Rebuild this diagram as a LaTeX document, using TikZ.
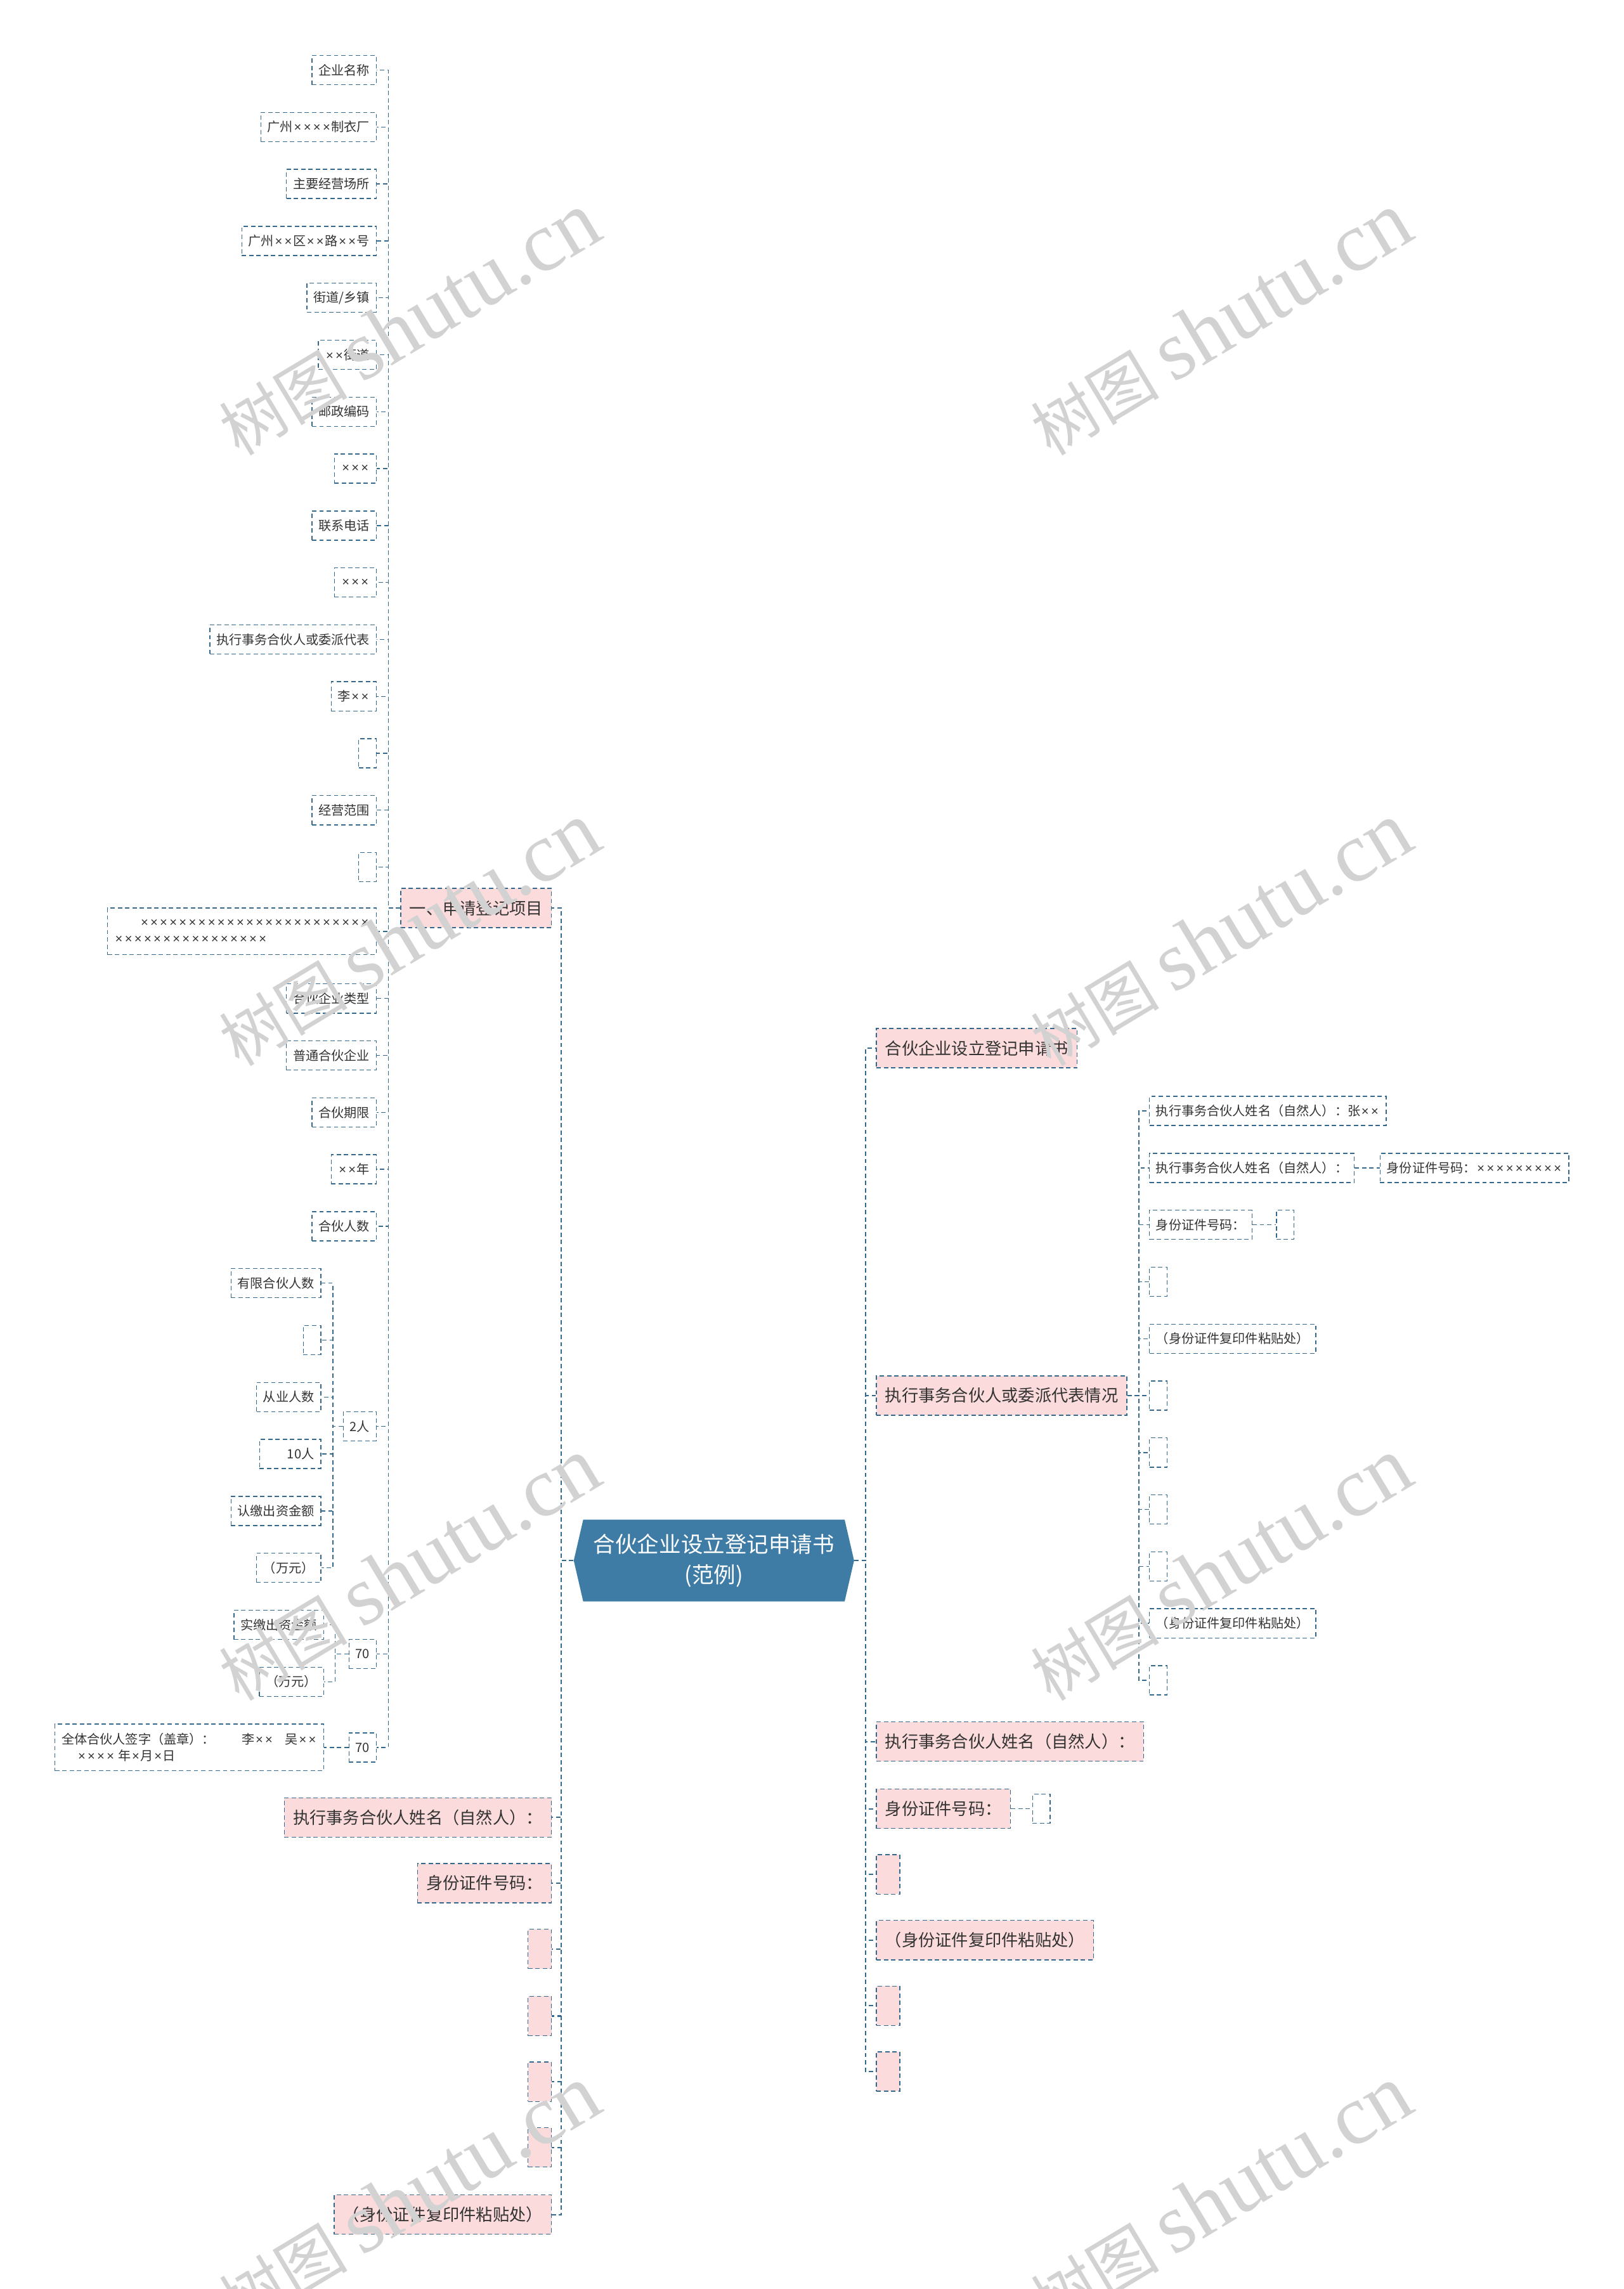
\documentclass[tikz,border=0pt]{standalone}
\usepackage{fontspec}
\setmainfont{Noto Sans CJK SC}
\newfontfamily\wmlatin{Liberation Serif}
\newfontfamily\latinsans{Liberation Sans}
\newcommand\xm{\makebox[0.75em]{\latinsans ×}}
\usetikzlibrary{shapes.symbols}

\definecolor{linea}{RGB}{52,104,140}
\definecolor{rosa}{RGB}{251,219,219}
\definecolor{raizazul}{RGB}{62,124,166}
\definecolor{tinta}{RGB}{51,51,51}
\definecolor{marca}{RGB}{210,210,210}

\begin{document}
\begin{tikzpicture}[x=1pt,y=-1pt,
  link/.style={draw=linea,line width=0.6pt,dash pattern=on 3pt off 2pt},
  trunk/.style={link,line width=0.9pt},
  leaf/.style={draw=linea,line width=0.6pt,dash pattern=on 3pt off 2pt,text=tinta,align=left,
    font=\fontsize{8.75}{11.5}\selectfont,inner xsep=4.5pt,inner ysep=0pt,minimum height=20pt,minimum width=12pt},
  topic/.style={leaf,fill=rosa,font=\fontsize{11.4}{14}\selectfont,inner xsep=6pt,minimum height=27pt,minimum width=16pt},
  wmark/.style={text=marca,rotate=31,font=\fontsize{44}{44}\selectfont}]
  \useasboundingbox (0,0) rectangle (1112,1568);
  % troncos
  \coordinate (tl) at (384.5,0); \coordinate (tr) at (593,0);
  \coordinate (ta) at (266,0); \coordinate (tb) at (228,0);
  \coordinate (tc) at (229.5,0); \coordinate (td) at (780,0);

  % raiz
  \node[signal,signal to=west and east,signal pointer angle=154,fill=raizazul,text=white,
    font=\fontsize{15}{20.5}\selectfont,align=center,minimum width=192pt,minimum height=56pt,
    inner sep=2pt] (raiz) at (489,1069) {合伙企业设立登记申请书\\(范例)};

  % ramas izquierdas
  \node[topic,anchor=east] (p1) at (378,622) {一、申请登记项目};
  \node[topic,anchor=east] (p2) at (378,1245) {执行事务合伙人姓名（自然人）：};
  \node[topic,anchor=east] (p3) at (378,1290) {身份证件号码：};
  \foreach \y [count=\i] in {1335,1381,1426,1471}
    \node[topic,anchor=east] (q\i) at (378,\y) {};
  \node[topic,anchor=east] (p4) at (378,1517) {（身份证件复印件粘贴处）};
  \foreach \n in {p1,p2,p3,q1,q2,q3,q4,p4}
    \draw[trunk] (raiz.west) -- (raiz.west -| tl) |- (\n.east);

  % ramas derechas
  \node[topic,anchor=west] (r1) at (600,718) {合伙企业设立登记申请书};
  \node[topic,anchor=west] (r2) at (600,956) {执行事务合伙人或委派代表情况};
  \node[topic,anchor=west] (r3) at (600,1193) {执行事务合伙人姓名（自然人）：};
  \node[topic,anchor=west] (r4) at (600,1239) {身份证件号码：};
  \node[topic,anchor=west] (r5) at (600,1284) {};
  \node[topic,anchor=west] (r6) at (600,1329) {（身份证件复印件粘贴处）};
  \node[topic,anchor=west] (r7) at (600,1374) {};
  \node[topic,anchor=west] (r8) at (600,1419) {};
  \foreach \n in {r1,r2,r3,r4,r5,r6,r7,r8}
    \draw[trunk] (raiz.east) -- (raiz.east -| tr) |- (\n.west);
  \node[leaf,anchor=west] (r4a) at (707,1239) {};
  \draw[link] (r4.east) -- (r4a.west);

  % registro: columna de datos
  \foreach \txt/\y [count=\i] in {企业名称/48,广州\xm\xm\xm\xm 制衣厂/87,主要经营场所/126,广州\xm\xm 区\xm\xm 路\xm\xm 号/165,
      {街道/乡镇}/204,\xm\xm 街道/243,邮政编码/282,\xm\xm\xm/321,联系电话/360,\xm\xm\xm/399,
      执行事务合伙人或委派代表/438,李\xm\xm/477,{}/516,经营范围/555,{}/594,
      合伙企业类型/684,普通合伙企业/723,合伙期限/762,\xm\xm 年/801,合伙人数/840}{
    \node[leaf,anchor=east] (a\i) at (258,\y) {\txt};
    \draw[link] (p1.west) -- (p1.west -| ta) |- (a\i.east);
  }
  \node[leaf,anchor=east,minimum height=32pt] (a21) at (258,638)
    {\hspace*{2em}\xm\xm\xm\xm\xm\xm\xm\xm\xm\xm\xm\xm\xm\xm\xm\xm\xm\xm\xm\xm\xm\xm\xm\xm\\
     \xm\xm\xm\xm\xm\xm\xm\xm\xm\xm\xm\xm\xm\xm\xm\xm};
  \draw[link] (p1.west) -- (p1.west -| ta) |- (a21.east);

  % numero de socios
  \node[leaf,anchor=east] (n2) at (258,977) {2人};
  \draw[link] (p1.west) -- (p1.west -| ta) |- (n2.east);
  \foreach \txt/\y [count=\i] in {有限合伙人数/879,{}/918,从业人数/957,
      {\hspace*{1.65em}10人}/996,认缴出资金额/1035,（万元）/1074}{
    \node[leaf,anchor=east] (b\i) at (220,\y) {\txt};
    \draw[link] (n2.west) -- (n2.west -| tb) |- (b\i.east);
  }

  % aportes
  \node[leaf,anchor=east] (n3) at (258,1133) {70};
  \draw[link] (p1.west) -- (p1.west -| ta) |- (n3.east);
  \node[leaf,anchor=east] (c1) at (222,1113) {实缴出资金额};
  \node[leaf,anchor=east] (c2) at (222,1152) {（万元）};
  \foreach \n in {c1,c2}
    \draw[link] (n3.west) -- (n3.west -| tc) |- (\n.east);
  \node[leaf,anchor=east] (n4) at (258,1197) {70};
  \draw[link] (p1.west) -- (p1.west -| ta) |- (n4.east);
  \node[leaf,anchor=east,minimum height=32pt] (d1) at (222,1197)
    {全体合伙人签字（盖章）：\hspace{2.1em}李\xm\xm\hspace{0.9em}吴\xm\xm\\
     \hspace*{1.2em}\xm\xm\xm\xm\ 年\xm 月\xm 日};
  \draw[link] (n4.west) -- (d1.east);

  % representante
  \foreach \txt/\y [count=\i] in {执行事务合伙人姓名（自然人）：张\xm\xm/761,执行事务合伙人姓名（自然人）：/800,
      身份证件号码：/839,{}/878,（身份证件复印件粘贴处）/917,{}/956,{}/995,{}/1034,{}/1073,
      （身份证件复印件粘贴处）/1112,{}/1151}{
    \node[leaf,anchor=west] (s\i) at (787,\y) {\txt};
    \draw[link] (r2.east) -- (r2.east -| td) |- (s\i.west);
  }
  \node[leaf,anchor=west] (s2a) at (945,800) {身份证件号码：\xm\xm\xm\xm\xm\xm\xm\xm\xm};
  \draw[link] (s2.east) -- (s2a.west);
  \node[leaf,anchor=west] (s3a) at (874,839) {};
  \draw[link] (s3.east) -- (s3a.west);

  % marcas de agua
  \foreach \x in {280,836} \foreach \y in {222,640,1075,1505}
    \node[wmark] at (\x,\y) {树图 {\wmlatin\fontsize{58}{58}\selectfont shutu.cn}};
\end{tikzpicture}
\end{document}
